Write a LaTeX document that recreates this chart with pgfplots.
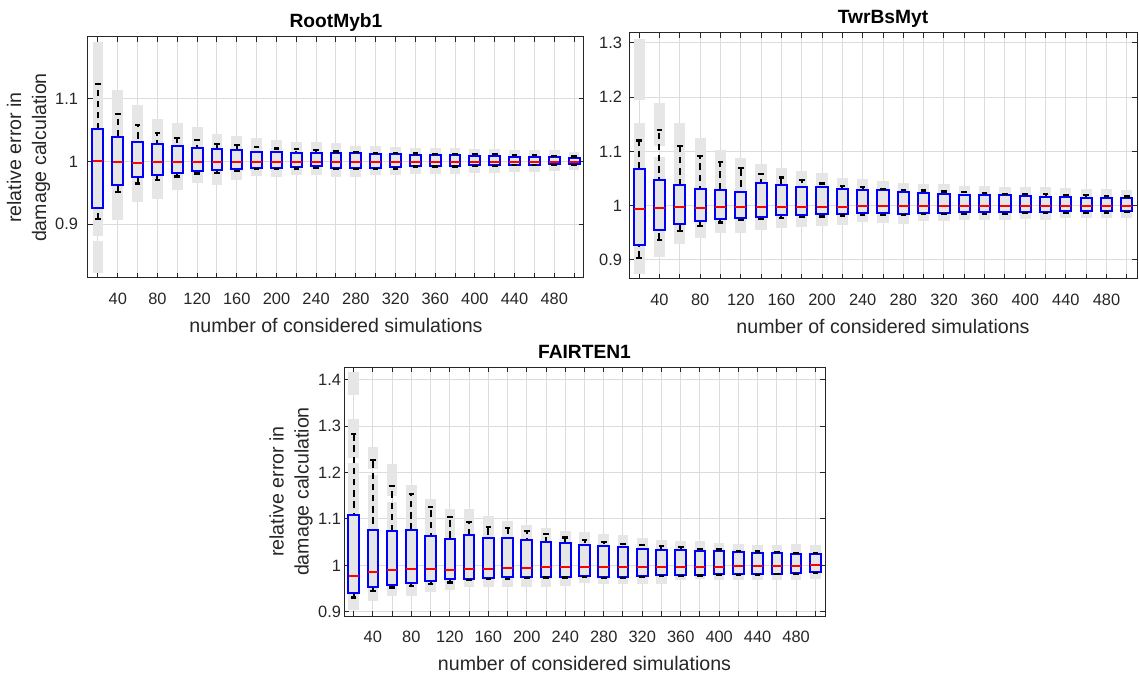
\documentclass[border=0pt]{standalone}
\usepackage{fontspec}
\setmainfont{Liberation Sans}
\usepackage{pgfplots}
\pgfplotsset{compat=1.18}
\definecolor{axc}{RGB}{38,38,38}
\definecolor{gridc}{RGB}{220,220,220}
\definecolor{barc}{RGB}{230,230,230}
% gray range segment: x, low, high
\newcommand{\gb}[3]{\addplot[forget plot, barc, line width=\gbw] coordinates {(#1,#2) (#1,#3)};}
% box: x, lower whisker, lower quartile, median, upper quartile, upper whisker
\newcommand{\bx}[6]{%
  \pgfmathsetmacro\xl{#1-5.5}%
  \pgfmathsetmacro\xr{#1+5.5}%
  \edef\tmp{%
    \noexpand\addplot[forget plot, black, line width=1pt, dash pattern=on 3.2pt off 2.4pt] coordinates {(#1,#2) (#1,#6)};%
    \noexpand\addplot[forget plot, draw=blue, fill=barc, line width=1pt] coordinates {(\xl,#3) (\xr,#3) (\xr,#5) (\xl,#5) (\xl,#3) (\xr,#3)};%
  }\tmp}
\pgfplotsset{
  mystyle/.style={
    scale only axis,
    xmin=10, xmax=510,
    xtick={40,80,...,480},
    minor xtick={20,60,...,500},
    grid=both,
    major grid style={draw=gridc, line width=0.5pt},
    minor grid style={draw=gridc, line width=0.5pt},
    tick align=inside,
    major tick length=2.5pt,
    minor tick length=2.5pt,
    axis line style={draw=axc, line width=0.5pt},
    every tick/.style={draw=axc, line width=0.5pt},
    every minor tick/.style={draw=axc, line width=0.5pt},
    ticklabel style={font=\fontsize{8.2}{9}\selectfont, text=axc},
    xticklabel style={yshift=-4pt},
    /pgf/number format/assume math mode=true,
    label style={font=\fontsize{9.8}{12.5}\selectfont, text=axc},
    every axis title shift=0pt,
    title style={font=\bfseries\fontsize{9.6}{11}\selectfont, text=black, at={(0.5,1)}, anchor=base, yshift=4.5pt},
    xlabel={number of considered simulations},
    medstyle/.style={forget plot, only marks, mark=-, red, mark size=2.6pt, mark options={line width=1pt, solid}},
    capstyle/.style={forget plot, only marks, mark=-, black, mark size=1.4pt, mark options={line width=1.1pt, solid}},
  }
}
\begin{document}
\begin{tikzpicture}
\useasboundingbox (0,0) rectangle (569.5pt,-336.5pt);
% ---------------- RootMyb1 ----------------
\def\gbw{5.4pt}
\begin{axis}[mystyle, at={(44pt,-18.5pt)}, anchor=north west,
  width=248pt, height=120.5pt,
  ymin=0.814, ymax=1.199, ytick={0.9,1,1.1},
  yticklabel style={xshift=-1.5pt},
  title={RootMyb1},
  ylabel={relative error in\\damage calculation},
  ylabel style={align=center, at={(axis description cs:-0.12,0.5)}, anchor=center}]
\gb{20}{0.822}{0.873} \gb{20}{0.881}{1.191}
\gb{40}{0.907}{1.114} \gb{60}{0.935}{1.090} \gb{80}{0.940}{1.068}
\gb{100}{0.954}{1.061} \gb{120}{0.965}{1.055} \gb{140}{0.963}{1.044}
\gb{160}{0.970}{1.041} \gb{180}{0.977}{1.038} \gb{200}{0.975}{1.035}
\gb{220}{0.978}{1.032} \gb{240}{0.978}{1.031} \gb{260}{0.976}{1.030}
\gb{280}{0.976}{1.025} \gb{300}{0.978}{1.025} \gb{320}{0.979}{1.024}
\gb{340}{0.980}{1.021} \gb{360}{0.980}{1.021} \gb{380}{0.980}{1.021}
\gb{400}{0.981}{1.020} \gb{420}{0.981}{1.020} \gb{440}{0.984}{1.019}
\gb{460}{0.984}{1.019} \gb{480}{0.985}{1.018} \gb{500}{0.986}{1.016}
\bx{20}{0.908}{0.926}{1.001}{1.052}{1.124}
\bx{40}{0.951}{0.963}{1.000}{1.039}{1.076}
\bx{60}{0.965}{0.976}{0.998}{1.031}{1.058}
\bx{80}{0.970}{0.979}{0.9995}{1.028}{1.046}
\bx{100}{0.976}{0.982}{1.000}{1.025}{1.038}
\bx{120}{0.981}{0.985}{1.000}{1.022}{1.034}
\bx{140}{0.982}{0.987}{1.000}{1.020}{1.028}
\bx{160}{0.985}{0.988}{1.000}{1.018}{1.026}
\bx{180}{0.9875}{0.989}{1.000}{1.016}{1.023}
\bx{200}{0.988}{0.990}{1.000}{1.015}{1.021}
\bx{220}{0.989}{0.991}{1.000}{1.014}{1.020}
\bx{240}{0.990}{0.9925}{1.000}{1.014}{1.018}
\bx{260}{0.988}{0.990}{1.000}{1.013}{1.016}
\bx{280}{0.988}{0.989}{1.000}{1.013}{1.015}
\bx{300}{0.988}{0.990}{1.000}{1.012}{1.014}
\bx{320}{0.989}{0.991}{1.000}{1.012}{1.014}
\bx{340}{0.992}{0.993}{1.000}{1.010}{1.013}
\bx{360}{0.992}{0.993}{1.000}{1.010}{1.012}
\bx{380}{0.992}{0.993}{1.000}{1.010}{1.012}
\bx{400}{0.993}{0.994}{1.000}{1.009}{1.012}
\bx{420}{0.993}{0.994}{1.000}{1.009}{1.012}
\bx{440}{0.994}{0.995}{1.000}{1.008}{1.010}
\bx{460}{0.994}{0.995}{1.000}{1.007}{1.010}
\bx{480}{0.9945}{0.9955}{1.000}{1.007}{1.009}
\bx{500}{0.995}{0.996}{1.000}{1.006}{1.008}
% medians
\addplot[medstyle] coordinates {(20,1.001) (40,1.000) (60,0.998) (80,0.9995) (100,1.000) (120,1.000) (140,1.000) (160,1.000) (180,1.000) (200,1.000) (220,1.000) (240,1.000) (260,1.000) (280,1.000) (300,1.000) (320,1.000) (340,1.000) (360,1.000) (380,1.000) (400,1.000) (420,1.000) (440,1.000) (460,1.000) (480,1.000) (500,1.000)};
% whisker caps
\addplot[capstyle] coordinates {(20,0.908) (20,1.124) (40,0.951) (40,1.076) (60,0.965) (60,1.058) (80,0.970) (80,1.046) (100,0.976) (100,1.038) (120,0.981) (120,1.034) (140,0.982) (140,1.028) (160,0.985) (160,1.026) (180,0.9875) (180,1.023) (200,0.988) (200,1.021) (220,0.989) (220,1.020) (240,0.990) (240,1.018) (260,0.988) (260,1.016) (280,0.988) (280,1.015) (300,0.988) (300,1.014) (320,0.989) (320,1.014) (340,0.992) (340,1.013) (360,0.992) (360,1.012) (380,0.992) (380,1.012) (400,0.993) (400,1.012) (420,0.993) (420,1.012) (440,0.994) (440,1.010) (460,0.994) (460,1.010) (480,0.9945) (480,1.009) (500,0.995) (500,1.008)};
\end{axis}
% ---------------- TwrBsMyt ----------------
\def\gbw{5.6pt}
\begin{axis}[mystyle, at={(314.5pt,-16.5pt)}, anchor=north west,
  width=254pt, height=123pt,
  ymin=0.865, ymax=1.318, ytick={0.9,1,1.1,1.2,1.3},
  title={TwrBsMyt}]
\gb{20}{0.875}{1.152} \gb{20}{1.194}{1.307}
\gb{40}{0.906}{1.090} \gb{40}{1.110}{1.190}
\gb{60}{0.929}{1.153} \gb{80}{0.940}{1.125} \gb{100}{0.950}{1.102}
\gb{120}{0.950}{1.087} \gb{140}{0.956}{1.076} \gb{160}{0.958}{1.069}
\gb{180}{0.961}{1.064} \gb{200}{0.963}{1.061} \gb{220}{0.965}{1.051}
\gb{240}{0.970}{1.050} \gb{260}{0.968}{1.045} \gb{280}{0.967}{1.042}
\gb{300}{0.971}{1.040} \gb{320}{0.971}{1.040} \gb{340}{0.974}{1.037}
\gb{360}{0.974}{1.036} \gb{380}{0.974}{1.034} \gb{400}{0.975}{1.034}
\gb{420}{0.974}{1.034} \gb{440}{0.977}{1.0325} \gb{460}{0.977}{1.031}
\gb{480}{0.977}{1.031} \gb{500}{0.977}{1.029}
\bx{20}{0.904}{0.927}{0.9945}{1.068}{1.120}
\bx{40}{0.937}{0.955}{0.9957}{1.048}{1.139}
\bx{60}{0.954}{0.966}{0.997}{1.039}{1.110}
\bx{80}{0.963}{0.971}{0.996}{1.031}{1.091}
\bx{100}{0.969}{0.975}{0.997}{1.028}{1.080}
\bx{120}{0.973}{0.978}{0.997}{1.025}{1.069}
\bx{140}{0.975}{0.980}{0.9975}{1.041}{1.058}
\bx{160}{0.977}{0.982}{0.9975}{1.038}{1.052}
\bx{180}{0.979}{0.983}{0.998}{1.035}{1.047}
\bx{200}{0.980}{0.984}{0.998}{1.034}{1.041}
\bx{220}{0.982}{0.985}{0.998}{1.031}{1.036}
\bx{240}{0.983}{0.9865}{0.9988}{1.028}{1.034}
\bx{260}{0.983}{0.9865}{0.9988}{1.028}{1.031}
\bx{280}{0.983}{0.985}{0.999}{1.025}{1.029}
\bx{300}{0.984}{0.9865}{0.999}{1.023}{1.028}
\bx{320}{0.984}{0.987}{0.999}{1.021}{1.026}
\bx{340}{0.985}{0.988}{0.999}{1.020}{1.0245}
\bx{360}{0.985}{0.988}{0.999}{1.019}{1.023}
\bx{380}{0.985}{0.988}{0.999}{1.019}{1.022}
\bx{400}{0.9865}{0.989}{0.999}{1.017}{1.021}
\bx{420}{0.9865}{0.989}{0.999}{1.016}{1.021}
\bx{440}{0.987}{0.9895}{0.999}{1.016}{1.020}
\bx{460}{0.987}{0.9895}{0.999}{1.014}{1.019}
\bx{480}{0.9875}{0.9895}{0.999}{1.0135}{1.018}
\bx{500}{0.988}{0.991}{0.999}{1.0135}{1.017}
\addplot[medstyle, mark size=2.7pt] coordinates {(20,0.9945) (40,0.9957) (60,0.997) (80,0.996) (100,0.997) (120,0.997) (140,0.9975) (160,0.9975) (180,0.998) (200,0.998) (220,0.998) (240,0.9988) (260,0.9988) (280,0.999) (300,0.999) (320,0.999) (340,0.999) (360,0.999) (380,0.999) (400,0.999) (420,0.999) (440,0.999) (460,0.999) (480,0.999) (500,0.999)};
\addplot[capstyle] coordinates {(20,0.904) (20,1.120) (40,0.937) (40,1.139) (60,0.954) (60,1.110) (80,0.963) (80,1.091) (100,0.969) (100,1.080) (120,0.973) (120,1.069) (140,0.975) (140,1.058) (160,0.977) (160,1.052) (180,0.979) (180,1.047) (200,0.980) (200,1.041) (220,0.982) (220,1.036) (240,0.983) (240,1.034) (260,0.983) (260,1.031) (280,0.983) (280,1.029) (300,0.984) (300,1.028) (320,0.984) (320,1.026) (340,0.985) (340,1.0245) (360,0.985) (360,1.023) (380,0.985) (380,1.022) (400,0.9865) (400,1.021) (420,0.9865) (420,1.021) (440,0.987) (440,1.020) (460,0.987) (460,1.019) (480,0.9875) (480,1.018) (500,0.988) (500,1.017)};
\end{axis}
% ---------------- FAIRTEN1 ----------------
\def\gbw{5.3pt}
\begin{axis}[mystyle, at={(172pt,-183.5pt)}, anchor=north west,
  width=240.5pt, height=124.5pt,
  ymin=0.891, ymax=1.427, ytick={0.9,1,1.1,1.2,1.3,1.4},
  yticklabel style={xshift=2pt},
  title={FAIRTEN1},
  ylabel={relative error in\\damage calculation},
  ylabel style={align=center, at={(axis description cs:-0.110,0.5)}, anchor=center}]
\gb{20}{0.904}{1.220} \gb{20}{1.232}{1.314} \gb{20}{1.366}{1.417}
\gb{40}{0.924}{1.1935} \gb{40}{1.208}{1.255}
\gb{60}{0.9345}{1.137} \gb{60}{1.150}{1.219}
\gb{80}{0.9345}{1.172} \gb{100}{0.943}{1.143} \gb{120}{0.9475}{1.1216}
\gb{140}{0.9525}{1.1216} \gb{160}{0.9525}{1.107} \gb{180}{0.9525}{1.0964}
\gb{200}{0.954}{1.0878} \gb{220}{0.954}{1.0806} \gb{240}{0.956}{1.073}
\gb{260}{0.963}{1.071} \gb{280}{0.960}{1.067} \gb{300}{0.960}{1.065}
\gb{320}{0.960}{1.060} \gb{340}{0.959}{1.055} \gb{360}{0.9676}{1.052}
\gb{380}{0.970}{1.052} \gb{400}{0.9676}{1.048} \gb{420}{0.969}{1.047}
\gb{440}{0.969}{1.0446} \gb{460}{0.969}{1.0446} \gb{480}{0.969}{1.047}
\gb{500}{0.970}{1.0446}
\bx{20}{0.931}{0.940}{0.978}{1.109}{1.283}
\bx{40}{0.945}{0.9525}{0.9856}{1.077}{1.227}
\bx{60}{0.9525}{0.957}{0.990}{1.073}{1.170}
\bx{80}{0.956}{0.961}{0.992}{1.076}{1.154}
\bx{100}{0.960}{0.9655}{0.992}{1.064}{1.125}
\bx{120}{0.963}{0.970}{0.991}{1.0575}{1.1036}
\bx{140}{0.968}{0.971}{0.992}{1.0655}{1.093}
\bx{160}{0.970}{0.9727}{0.993}{1.060}{1.082}
\bx{180}{0.9705}{0.974}{0.9935}{1.059}{1.0806}
\bx{200}{0.972}{0.9755}{0.9942}{1.0547}{1.0734}
\bx{220}{0.974}{0.9755}{0.9957}{1.0504}{1.0676}
\bx{240}{0.974}{0.976}{0.9957}{1.048}{1.060}
\bx{260}{0.975}{0.977}{0.9962}{1.043}{1.055}
\bx{280}{0.9727}{0.975}{0.9964}{1.0417}{1.050}
\bx{300}{0.9727}{0.975}{0.9964}{1.0396}{1.0468}
\bx{320}{0.975}{0.977}{0.9964}{1.036}{1.043}
\bx{340}{0.977}{0.9784}{0.997}{1.034}{1.041}
\bx{360}{0.977}{0.979}{0.997}{1.034}{1.0396}
\bx{380}{0.978}{0.980}{0.9964}{1.032}{1.036}
\bx{400}{0.979}{0.9806}{0.997}{1.030}{1.034}
\bx{420}{0.980}{0.982}{0.998}{1.0288}{1.031}
\bx{440}{0.980}{0.982}{0.998}{1.0273}{1.030}
\bx{460}{0.981}{0.982}{0.998}{1.0266}{1.0288}
\bx{480}{0.982}{0.9835}{0.9986}{1.025}{1.0273}
\bx{500}{0.9835}{0.9856}{1.000}{1.0237}{1.0266}
\addplot[medstyle, mark size=2.5pt] coordinates {(20,0.978) (40,0.9856) (60,0.990) (80,0.992) (100,0.992) (120,0.991) (140,0.992) (160,0.993) (180,0.9935) (200,0.9942) (220,0.9957) (240,0.9957) (260,0.9962) (280,0.9964) (300,0.9964) (320,0.9964) (340,0.997) (360,0.997) (380,0.9964) (400,0.997) (420,0.998) (440,0.998) (460,0.998) (480,0.9986) (500,1.000)};
\addplot[capstyle] coordinates {(20,0.931) (20,1.283) (40,0.945) (40,1.227) (60,0.9525) (60,1.170) (80,0.956) (80,1.154) (100,0.960) (100,1.125) (120,0.963) (120,1.1036) (140,0.968) (140,1.093) (160,0.970) (160,1.082) (180,0.9705) (180,1.0806) (200,0.972) (200,1.0734) (220,0.974) (220,1.0676) (240,0.974) (240,1.060) (260,0.975) (260,1.055) (280,0.9727) (280,1.050) (300,0.9727) (300,1.0468) (320,0.975) (320,1.043) (340,0.977) (340,1.041) (360,0.977) (360,1.0396) (380,0.978) (380,1.036) (400,0.979) (400,1.034) (420,0.980) (420,1.031) (440,0.980) (440,1.030) (460,0.981) (460,1.0288) (480,0.982) (480,1.0273) (500,0.9835) (500,1.0266)};
\end{axis}
\end{tikzpicture}
\end{document}
